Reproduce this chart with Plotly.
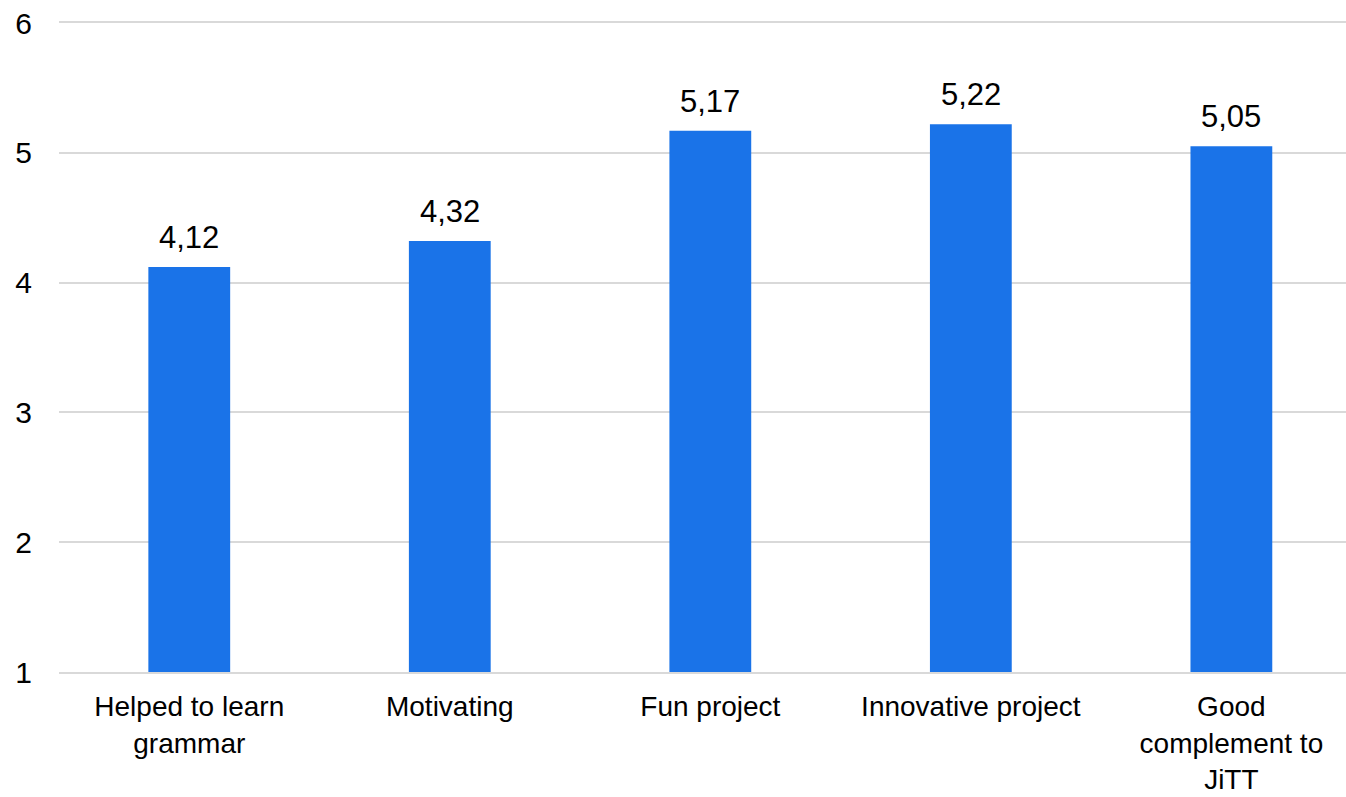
import plotly.graph_objects as go

categories = ["Helped to learn<br>grammar", "Motivating", "Fun project",
              "Innovative project", "Good<br>complement to<br>JiTT"]
values = [4.12, 4.32, 5.17, 5.22, 5.05]
y_ticks = [1, 2, 3, 4, 5, 6]

BAR = "#1a73e8"
GRID = "#d9d9d9"
FONT = "Liberation Sans, Arial, sans-serif"

fig = go.Figure()
fig.add_trace(go.Bar(
    x=list(range(len(categories))), y=values,
    marker=dict(color=BAR, line=dict(width=0)),
    width=0.314,
))

for i, v in enumerate(values):
    fig.add_annotation(x=i, y=v, text=f"{v:.2f}".replace(".", ","),
                       showarrow=False, yanchor="bottom", yshift=10,
                       font=dict(size=31, color="#000000", family=FONT))

fig.update_layout(
    width=1346, height=797,
    margin=dict(l=59, r=0, t=23, b=125, autoexpand=False),
    paper_bgcolor="white", plot_bgcolor="white",
    font=dict(family=FONT, size=28, color="#000000"),
    showlegend=False,
)
fig.update_xaxes(
    range=[-0.5, 4.44], tickmode="array",
    tickvals=list(range(len(categories))), ticktext=categories,
    showgrid=False, zeroline=False, showline=True, mirror=True,
    linecolor=GRID, linewidth=1.5, layer="below traces", ticks="",
    tickfont=dict(size=28, color="#000000"), ticklabelstandoff=9,
    automargin=False,
)
fig.update_yaxes(
    range=[1, 6], tickvals=y_ticks, showgrid=True, gridcolor=GRID,
    gridwidth=1.5, zeroline=False, showline=False, ticks="",
    tickfont=dict(size=30, color="#000000"), ticklabelstandoff=26,
    automargin=False,
)

fig.write_html("out.html")
